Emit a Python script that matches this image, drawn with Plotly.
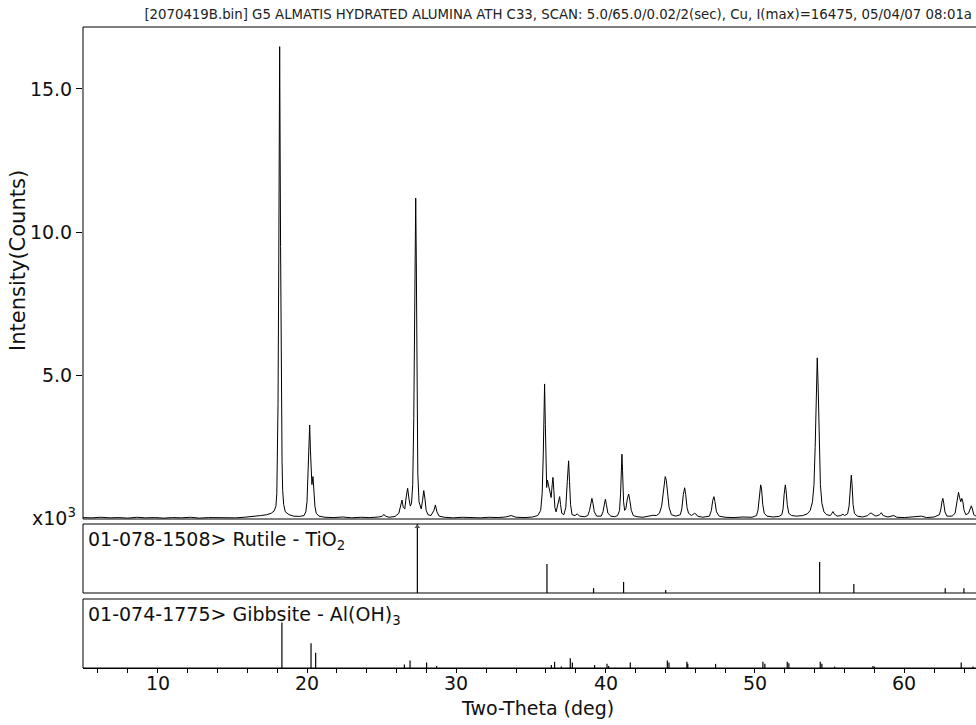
import plotly.graph_objects as go

# ---- measured scan (2-theta in deg, intensity in thousands of counts) ----
scan = [
    (5.0, 0.05), (5.6, 0.04), (6.2, 0.06), (6.8, 0.04), (7.4, 0.05), (8.0, 0.03),
    (8.6, 0.06), (9.2, 0.04), (9.8, 0.05), (10.4, 0.03), (11.0, 0.05), (11.6, 0.04),
    (12.2, 0.06), (12.8, 0.03), (13.4, 0.05), (14.0, 0.04), (14.6, 0.05), (15.2, 0.04),
    (15.8, 0.06), (16.4, 0.08), (16.9, 0.12), (17.3, 0.15), (17.6, 0.2), (17.8, 0.28),
    (17.92, 0.45), (17.98, 0.9), (18.02, 2.0), (18.06, 4.0), (18.11, 9.0), (18.17, 16.475),
    (18.23, 9.5), (18.28, 4.0), (18.33, 2.0), (18.37, 1.0), (18.44, 0.5), (18.55, 0.25),
    (18.8, 0.15), (19.1, 0.1), (19.5, 0.09), (19.8, 0.12),
    (19.92, 0.25), (20.0, 0.6), (20.07, 1.5), (20.13, 2.7), (20.18, 3.28), (20.23, 2.4),
    (20.28, 1.4), (20.33, 1.2), (20.40, 1.48), (20.46, 1.0), (20.53, 0.45), (20.62, 0.2),
    (20.8, 0.1), (21.2, 0.06), (21.8, 0.05), (22.4, 0.07), (23.0, 0.04), (23.6, 0.06),
    (24.2, 0.05), (24.8, 0.07), (25.05, 0.1), (25.15, 0.16), (25.25, 0.1), (25.5, 0.06),
    (25.9, 0.09), (26.15, 0.2), (26.27, 0.45), (26.36, 0.66), (26.45, 0.4), (26.55, 0.35),
    (26.65, 0.8), (26.74, 1.07), (26.83, 0.7), (26.92, 0.45), (27.0, 0.55), (27.08, 1.2),
    (27.15, 3.5), (27.2, 7.0), (27.24, 10.0), (27.28, 11.19), (27.32, 9.0), (27.37, 4.5),
    (27.42, 1.6), (27.5, 0.6), (27.57, 0.49), (27.65, 0.35), (27.74, 0.65), (27.82, 0.99),
    (27.9, 0.7), (27.98, 0.3), (28.1, 0.15), (28.3, 0.12), (28.5, 0.3), (28.6, 0.49),
    (28.7, 0.25), (28.85, 0.1), (29.2, 0.06), (29.8, 0.04), (30.4, 0.06), (31.0, 0.05),
    (31.6, 0.04), (32.2, 0.06), (32.8, 0.05), (33.3, 0.07), (33.68, 0.12), (34.0, 0.06),
    (34.6, 0.05), (35.1, 0.07), (35.45, 0.12),
    (35.65, 0.3), (35.75, 0.9), (35.82, 2.2), (35.87, 3.9), (35.91, 4.71), (35.96, 3.3),
    (36.0, 1.6), (36.05, 1.1), (36.1, 1.36), (36.17, 1.2), (36.22, 1.05), (36.28, 0.9),
    (36.35, 0.75), (36.42, 1.2), (36.47, 1.45), (36.53, 1.0), (36.6, 0.4), (36.68, 0.25),
    (36.78, 0.45), (36.86, 0.7), (36.92, 0.78), (36.98, 0.5), (37.06, 0.2), (37.2, 0.15),
    (37.33, 0.4), (37.43, 1.3), (37.52, 2.03), (37.58, 1.3), (37.65, 0.5), (37.75, 0.15),
    (37.95, 0.12), (38.1, 0.18), (38.25, 0.1), (38.6, 0.08),
    (38.8, 0.12), (38.92, 0.3), (39.0, 0.55), (39.08, 0.72), (39.15, 0.55), (39.24, 0.25),
    (39.4, 0.1), (39.7, 0.1), (39.82, 0.25), (39.9, 0.5), (39.98, 0.69), (40.05, 0.5),
    (40.15, 0.2), (40.35, 0.1), (40.6, 0.08), (40.8, 0.12),
    (40.93, 0.3), (41.0, 0.9), (41.05, 1.8), (41.09, 2.26), (41.13, 1.7), (41.2, 0.6),
    (41.27, 0.3), (41.35, 0.35), (41.45, 0.7), (41.54, 0.87), (41.62, 0.65), (41.72, 0.3),
    (41.85, 0.12), (42.1, 0.08), (42.5, 0.06), (42.9, 0.1), (43.17, 0.13), (43.4, 0.12),
    (43.6, 0.2), (43.75, 0.45), (43.85, 0.9), (43.93, 1.35), (43.99, 1.48), (44.06, 1.35),
    (44.15, 0.8), (44.25, 0.4), (44.4, 0.15), (44.7, 0.1),
    (45.0, 0.15), (45.1, 0.35), (45.2, 0.85), (45.29, 1.09), (45.36, 0.85), (45.45, 0.4),
    (45.55, 0.2), (45.75, 0.12), (45.95, 0.2), (46.03, 0.18), (46.15, 0.1), (46.5, 0.06),
    (46.95, 0.1), (47.08, 0.3), (47.17, 0.65), (47.25, 0.78), (47.32, 0.6), (47.42, 0.25),
    (47.6, 0.1), (48.0, 0.06), (48.6, 0.05), (49.2, 0.07), (49.8, 0.06), (50.1, 0.12),
    (50.2, 0.3), (50.28, 0.8), (50.33, 1.1), (50.38, 1.19), (50.44, 1.05), (50.52, 0.5),
    (50.62, 0.2), (50.8, 0.1), (51.2, 0.07), (51.6, 0.09), (51.8, 0.15),
    (51.88, 0.35), (51.95, 0.85), (52.0, 1.15), (52.03, 1.19), (52.08, 1.0), (52.16, 0.5),
    (52.26, 0.2), (52.45, 0.12), (52.8, 0.1), (53.2, 0.12), (53.5, 0.18),
    (53.7, 0.3), (53.85, 0.6), (53.95, 1.2), (54.03, 2.5), (54.1, 4.3), (54.17, 5.62),
    (54.23, 4.6), (54.3, 2.6), (54.38, 1.2), (54.48, 0.55), (54.62, 0.25), (54.8, 0.15),
    (55.05, 0.12), (55.15, 0.2), (55.22, 0.26), (55.3, 0.18), (55.5, 0.1), (55.75, 0.12),
    (55.89, 0.17), (56.0, 0.12), (56.2, 0.18),
    (56.3, 0.45), (56.36, 1.0), (56.41, 1.45), (56.45, 1.53), (56.5, 1.2), (56.57, 0.5),
    (56.66, 0.2), (56.85, 0.1), (57.2, 0.07), (57.55, 0.12), (57.7, 0.2), (57.81, 0.2),
    (57.9, 0.16), (58.1, 0.1), (58.35, 0.15), (58.46, 0.22), (58.58, 0.12), (58.9, 0.07),
    (59.3, 0.12), (59.5, 0.06), (60.0, 0.05), (60.6, 0.07), (61.14, 0.1), (61.5, 0.05),
    (62.0, 0.07), (62.35, 0.15), (62.45, 0.35), (62.52, 0.6), (62.58, 0.72), (62.64, 0.55),
    (62.72, 0.25), (62.85, 0.1), (63.2, 0.1), (63.4, 0.2), (63.5, 0.5), (63.57, 0.85),
    (63.63, 0.93), (63.7, 0.75), (63.78, 0.6), (63.85, 0.72), (63.92, 0.6), (64.0, 0.3),
    (64.12, 0.15), (64.3, 0.2), (64.4, 0.38), (64.49, 0.46), (64.56, 0.35), (64.65, 0.15),
    (64.8, 0.1),
]

# ---- reference patterns: line positions (deg) and relative heights (% of panel) ----
rutile_2theta = [27.39, 36.07, 39.19, 41.20, 44.02, 54.33, 56.62, 62.74, 63.99]
rutile_height = [100, 42, 7, 16, 4.5, 45, 13, 7, 7]

gibbsite_2theta = [18.32, 20.27, 20.58, 26.52, 26.90, 28.01, 28.68, 36.36, 36.58,
                   37.03, 37.63, 37.77, 39.26, 40.09, 40.20, 41.65, 44.13, 44.24,
                   45.44, 45.50, 47.36, 50.53, 50.66, 52.16, 52.27, 54.37, 54.48,
                   55.33, 57.90, 58.00, 63.81, 64.60]
gibbsite_height = [66, 36, 22, 5, 11, 8, 3, 4.5, 9,
                   2, 14, 8, 4.5, 6, 3, 8, 11, 8,
                   9, 6, 6, 9, 6, 9, 7, 9, 6,
                   2, 3, 2, 8, 2]

y_tick_vals = [5, 10, 15]
y_tick_text = ["5.0", "10.0", "15.0"]
x_label_vals = [10, 20, 30, 40, 50, 60]

title_text = ("[2070419B.bin] G5 ALMATIS HYDRATED ALUMINA ATH C33, SCAN: "
              "5.0/65.0/0.02/2(sec), Cu, I(max)=16475, 05/04/07 08:01a")
rutile_label = "01-078-1508> Rutile - TiO<sub>2</sub>"
gibbsite_label = "01-074-1775> Gibbsite - Al(OH)<sub>3</sub>"

# ---- page geometry (pixels) ----
W, H = 976, 725
L, R, T, B = 83, 0, 27, 57
PLOT_H = H - T - B


def py(y_px):
    """pixel row -> paper y"""
    return (H - B - y_px) / PLOT_H


def px(x_px):
    """pixel column -> paper x"""
    return (x_px - L) / (W - L - R)


FONT = "DejaVu Sans, Arial, sans-serif"
INK = "#111111"
FS = 19


def sticks(pos, hgt):
    xs, ys = [], []
    for p, h in zip(pos, hgt):
        xs += [p, p, None]
        ys += [0, h, None]
    return xs, ys


fig = go.Figure()

fig.add_trace(go.Scatter(
    x=[p[0] for p in scan], y=[p[1] for p in scan],
    mode="lines", line=dict(color="#000000", width=1),
    xaxis="x", yaxis="y", hoverinfo="skip", showlegend=False))

rx, ry = sticks(rutile_2theta, rutile_height)
fig.add_trace(go.Scatter(x=rx, y=ry, mode="lines",
                         line=dict(color="#000000", width=1.2),
                         xaxis="x", yaxis="y2", showlegend=False, hoverinfo="skip"))
# clipped strongest line is flagged with an arrowhead
fig.add_trace(go.Scatter(x=[rutile_2theta[0]], y=[96], mode="markers",
                         marker=dict(symbol="triangle-up", size=5, color="#555555"),
                         xaxis="x", yaxis="y2", showlegend=False, hoverinfo="skip"))

gx, gy = sticks(gibbsite_2theta, gibbsite_height)
fig.add_trace(go.Scatter(x=gx, y=gy, mode="lines",
                         line=dict(color="#000000", width=1.2),
                         xaxis="x", yaxis="y3", showlegend=False, hoverinfo="skip"))

main_bottom, main_top = py(519), 1.0
rut_bottom, rut_top = py(593), py(524)
gib_bottom, gib_top = 0.0, py(599)

fig.update_layout(
    width=W, height=H,
    margin=dict(l=L, r=R, t=T, b=B),
    paper_bgcolor="white", plot_bgcolor="white",
    font=dict(family=FONT, color=INK, size=FS),
    title=dict(text=title_text, x=972 / W, xref="container", xanchor="right",
               y=1 - 14 / H, yref="container", yanchor="middle",
               font=dict(size=13.3, family=FONT, color="#222222")),
    xaxis=dict(range=[5, 64.8], anchor="y3", showgrid=False, zeroline=False,
               showline=True, linecolor="#000000", linewidth=1,
               ticks="outside", ticklen=4, tickwidth=1, tickcolor="#000000",
               tick0=0, dtick=10, showticklabels=False,
               minor=dict(ticks="outside", tick0=0, dtick=2, ticklen=4,
                          tickwidth=1, tickcolor="#000000", showgrid=False)),
    yaxis=dict(domain=[main_bottom, main_top], range=[0, 17.16], showgrid=False,
               zeroline=False, showline=False, ticks="outside", ticklen=6,
               tickcolor="#000000", tickvals=y_tick_vals, ticktext=y_tick_text,
               tickfont=dict(size=FS, family=FONT, color=INK)),
    yaxis2=dict(domain=[rut_bottom, rut_top], range=[0, 100], showgrid=False,
                zeroline=False, showticklabels=False, ticks=""),
    yaxis3=dict(domain=[gib_bottom, gib_top], range=[0, 100], showgrid=False,
                zeroline=False, showticklabels=False, ticks=""),
)

# panel frames (right side runs off the page)
frame = dict(color="#000000", width=1)
shapes = []
for y0, y1 in [(main_bottom, main_top), (rut_bottom, rut_top), (gib_bottom, gib_top)]:
    shapes.append(dict(type="line", xref="paper", yref="paper", x0=0, x1=0, y0=y0, y1=y1, line=frame))
    shapes.append(dict(type="line", xref="paper", yref="paper", x0=0, x1=1.01, y0=y1, y1=y1, line=frame))
    shapes.append(dict(type="line", xref="paper", yref="paper", x0=0, x1=1.01, y0=y0, y1=y0, line=frame))
fig.update_layout(shapes=shapes)

ann = [
    dict(text="Intensity(Counts)", x=px(18), y=py(261), textangle=-90,
         xanchor="center", yanchor="middle", font=dict(size=21, family=FONT, color=INK)),
    dict(text="x10<sup>3</sup>", x=px(78), y=py(517), xanchor="right", yanchor="middle",
         font=dict(size=FS, family=FONT, color=INK)),
    dict(text="Two-Theta (deg)", x=px(537), y=py(708), xanchor="center", yanchor="middle",
         font=dict(size=FS, family=FONT, color=INK)),
    dict(text=rutile_label, x=px(86), y=py(540), xanchor="left", yanchor="middle",
         font=dict(size=FS, family=FONT, color=INK)),
    dict(text=gibbsite_label, x=px(86), y=py(615), xanchor="left", yanchor="middle",
         font=dict(size=FS, family=FONT, color=INK)),
]
for a in ann:
    a.update(xref="paper", yref="paper", showarrow=False)
# 2-theta labels on the bottom axis, placed by the x scale
for v in x_label_vals:
    ann.append(dict(text=str(v), x=v, xref="x", y=py(683), yref="paper",
                    xanchor="center", yanchor="middle", showarrow=False,
                    font=dict(size=FS, family=FONT, color=INK)))
fig.update_layout(annotations=ann)

fig.write_html("out.html")
